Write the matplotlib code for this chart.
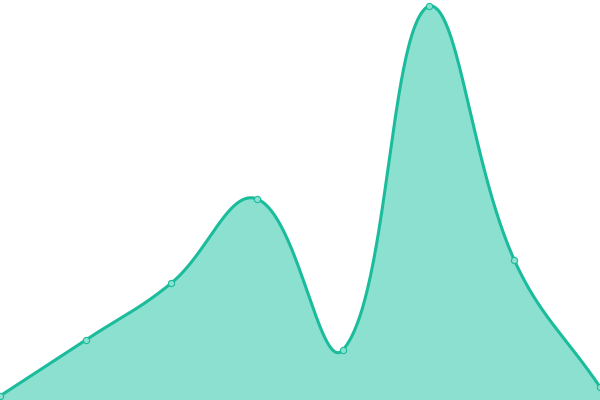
import numpy as np
import matplotlib
matplotlib.use("Agg")
import matplotlib.pyplot as plt

# values (8 evenly spaced points)
x_vals = [0, 1, 2, 3, 4, 5, 6, 7]
y_vals = [4, 60, 117, 201, 50, 394, 140, 13]

line_color = '#1abc9c'
fill_color = '#8ce0cf'
tension = 0.4


def spline_controls(pts, t):
    # Chart.js style control points (computed in display space)
    n = len(pts)
    cps = []
    for i in range(n):
        prev = pts[i - 1] if i > 0 else pts[i]
        cur = pts[i]
        nxt = pts[i + 1] if i < n - 1 else pts[i]
        d01 = np.hypot(*(cur - prev))
        d12 = np.hypot(*(nxt - cur))
        tot = d01 + d12
        s01 = d01 / tot if tot else 0
        s12 = d12 / tot if tot else 0
        c_prev = cur - t * s01 * (nxt - prev)
        c_next = cur + t * s12 * (nxt - prev)
        cps.append((c_prev, c_next))
    return cps


fig = plt.figure(figsize=(6, 4), dpi=100)
ax = fig.add_axes([0, 0, 1, 1])
ax.set_xlim(0, 7)
ax.set_ylim(0, 400)
ax.axis('off')

pts = ax.transData.transform(np.column_stack([x_vals, y_vals]))
cps = spline_controls(pts, tension)
bbox = ax.bbox

curve = []
tt = np.linspace(0, 1, 60)[:, None]
for i in range(len(pts) - 1):
    p0 = pts[i]
    p1 = cps[i][1]
    p2 = cps[i + 1][0]
    p3 = pts[i + 1]
    p1 = np.clip(p1, [bbox.x0, bbox.y0], [bbox.x1, bbox.y1])
    p2 = np.clip(p2, [bbox.x0, bbox.y0], [bbox.x1, bbox.y1])
    seg = ((1 - tt) ** 3) * p0 + 3 * ((1 - tt) ** 2) * tt * p1 \
        + 3 * (1 - tt) * tt ** 2 * p2 + tt ** 3 * p3
    curve.append(seg if i == 0 else seg[1:])
curve = ax.transData.inverted().transform(np.vstack(curve))

ax.fill_between(curve[:, 0], curve[:, 1], 0, color=fill_color, linewidth=0, zorder=1)
ax.plot(curve[:, 0], curve[:, 1], color=line_color, linewidth=2.2,
        solid_capstyle='round', zorder=2)
ax.plot(x_vals, y_vals, 'o', markersize=4.5, markerfacecolor=fill_color,
        markeredgecolor=line_color, markeredgewidth=0.8, zorder=3, clip_on=False)

fig.savefig('out.png', dpi=100)
plt.close(fig)
